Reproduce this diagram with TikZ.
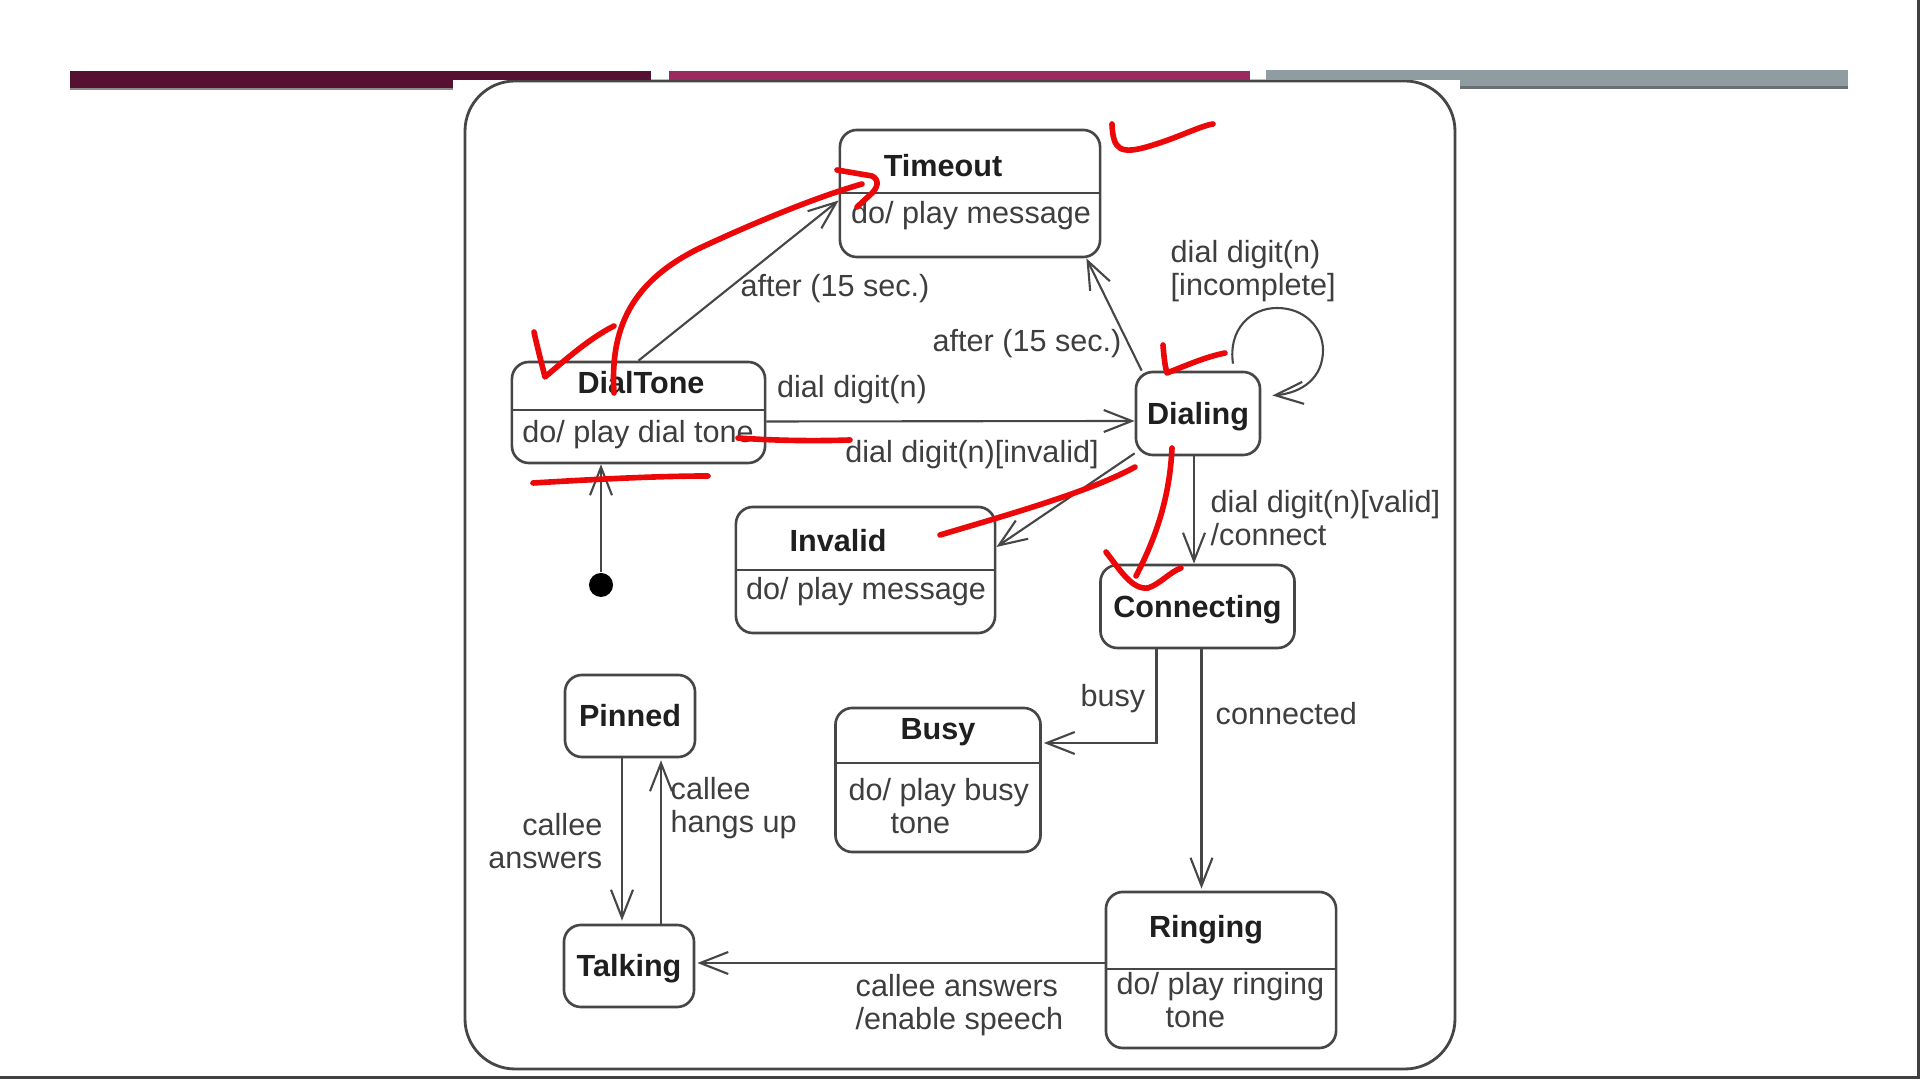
\documentclass[tikz,border=0pt]{standalone}
\usepackage{fontspec}
\setmainfont{Liberation Sans}
\usetikzlibrary{arrows.meta, positioning, calc}
\definecolor{slidemaroon}{RGB}{86, 16, 50}
\definecolor{slidepink}{RGB}{156, 42, 94}
\definecolor{slidegray}{RGB}{143, 157, 162}
\definecolor{slideshade}{RGB}{108, 112, 114}
\definecolor{umlline}{RGB}{70, 70, 70}
\definecolor{umltext}{RGB}{62, 62, 62}
\definecolor{penred}{RGB}{236, 8, 8}

\tikzset{
  statebox/.style={draw=umlline, line width=0.75pt, rounded corners=0.17cm, inner sep=0pt},
  simplestate/.style={statebox, font=\fontsize{8.7}{9.4}\selectfont\bfseries, text=black!88,
    text height=0.22cm, text depth=0pt},
  statename/.style={font=\fontsize{8.7}{9.4}\selectfont\bfseries, text=black!88, inner sep=0pt, anchor=base},
  stateact/.style={font=\fontsize{8.7}{9.4}\selectfont, text=umltext, inner sep=0pt, anchor=base},
  tlabel/.style={font=\fontsize{8.7}{9.4}\selectfont, text=umltext, inner sep=0pt, anchor=base},
  trans/.style={draw=umlline, line width=0.6pt, -{Straight Barb[length=2.8mm, width=2.2mm]}},
  inkmark/.style={draw=penred, line width=1.6pt, line cap=round, line join=round}
}

\begin{document}
\begin{tikzpicture}[x=0.01cm, y=-0.01cm]
  \useasboundingbox (0,0) rectangle (1920,1080);

  % slide frame and title bars
  \draw[umlline, line width=0.8pt, rounded corners=0.5cm] (465,81) rectangle (1455,1069);
  \fill[slidemaroon] (70,71) rectangle (453,90);
  \fill[slidemaroon] (453,71) rectangle (651,80);
  \fill[black!45] (70,88) rectangle (453,90);
  \fill[slidepink] (669,71) rectangle (1250,80);
  \fill[slidegray] (1266,70) rectangle (1848,80);
  \fill[slidegray] (1460,70) rectangle (1848,89);
  \fill[slideshade] (1460,86) rectangle (1848,89);
  \draw[black!75, line width=0.03cm] (0,1078) -- (1918,1078) -- (1918,0);

  % states
  \node[statebox, minimum width=2.60cm, minimum height=1.27cm] (timeout) at (970,193.5) {};
  \draw[umlline, line width=0.75pt] (timeout.west |- 0,193) -- (timeout.east |- 0,193);
  \node[statename] (timeoutName) at (943,177) {Timeout};
  \node[stateact] (timeoutDo) at (971,224) {do/ play message};

  \node[statebox, minimum width=2.53cm, minimum height=1.01cm] (dialtone) at (638.5,412.5) {};
  \draw[umlline, line width=0.75pt] (dialtone.west |- 0,410) -- (dialtone.east |- 0,410);
  \node[statename] (dialtoneName) at (641,394) {DialTone};
  \node[stateact] (dialtoneDo) at (638,443) {do/ play dial tone};

  \node[simplestate, minimum width=1.24cm, minimum height=0.83cm] (dialing) at (1198,413.5) {Dialing};

  \node[statebox, minimum width=2.59cm, minimum height=1.26cm] (invalid) at (865.5,570) {};
  \draw[umlline, line width=0.75pt] (invalid.west |- 0,570) -- (invalid.east |- 0,570);
  \node[statename] (invalidName) at (838,552) {Invalid};
  \node[stateact] (invalidDo) at (866,600) {do/ play message};

  \node[simplestate, minimum width=1.94cm, minimum height=0.83cm] (connecting) at (1197.5,606.5) {Connecting};
  \node[simplestate, minimum width=1.30cm, minimum height=0.82cm] (pinned) at (630,716) {Pinned};

  \node[statebox, minimum width=2.05cm, minimum height=1.44cm] (busy) at (938,780) {};
  \draw[umlline, line width=0.75pt] (busy.west |- 0,763) -- (busy.east |- 0,763);
  \node[statename] (busyName) at (938,740) {Busy};
  \node[stateact, anchor=base west, align=left] (busyDo) at (848,834) {do/ play busy\\\hspace*{1.37em}tone};

  \node[statebox, minimum width=2.30cm, minimum height=1.56cm] (ringing) at (1221,970) {};
  \draw[umlline, line width=0.75pt] (ringing.west |- 0,969) -- (ringing.east |- 0,969);
  \node[statename] (ringingName) at (1206,938) {Ringing};
  \node[stateact, anchor=base west, align=left] (ringingDo) at (1116,1028) {do/ play ringing\\\hspace*{1.6em}tone};

  \node[simplestate, minimum width=1.30cm, minimum height=0.82cm] (talking) at (629,966) {Talking};

  \node[circle, fill=black, inner sep=0pt, minimum size=0.24cm] (init) at (601,585) {};

  % transitions
  \draw[trans] (init) -- (init |- dialtone.south);
  \draw[trans] (dialtone.north) -- ($(timeout.west)+(0,7)$);
  \draw[trans] ($(dialing.north west)+(7,0)$) -- ($(timeout.south east)+(-15,0)$);
  \draw[trans] ($(dialtone.east)+(0,9)$) -- ($(dialing.west)+(0,7.5)$);
  \draw[trans] ($(dialing.south west)+(0,-3)$) -- ($(invalid.east)+(0,-23)$);
  \draw[trans] ($(dialing.north)+(35,-7)$) .. controls (1228,330) and (1250,308) .. (1277,308)
    .. controls (1305,308) and (1323,328) .. (1323,350)
    .. controls (1323,378) and (1302,393) .. ($(dialing.east)+(11,-18)$);
  \draw[trans] ($(dialing.south)+(-4,0)$) -- ($(connecting.north)+(-3.5,0)$);
  \draw[trans] ($(connecting.south)+(-41,0)$) |- ($(busy.east)+(2,-37)$);
  \draw[trans] ($(connecting.south)+(4,0)$) -- ($(ringing.north)+(-19.5,-2)$);
  \draw[trans] ($(ringing.west)+(0,-7)$) -- ($(talking.east)+(2,-3)$);
  \draw[trans] ($(pinned.south)+(-8,0)$) -- ($(talking.north)+(-7,-3)$);
  \draw[trans] ($(talking.north)+(32,0)$) -- ($(pinned.south)+(31,2)$);

  % transition labels
  \node[tlabel] (afterDialTone) at (835,297) {after (15 sec.)};
  \node[tlabel] (afterDialing) at (1027,352) {after (15 sec.)};
  \node[tlabel] (digitLbl) at (852,398) {dial digit(n)};
  \node[tlabel] (invalidLbl) at (972,463) {dial digit(n)[invalid]};
  \node[tlabel, anchor=base west, align=left] (incompleteLbl) at (1170,296) {dial digit(n)\\{}[incomplete]};
  \node[tlabel, anchor=base west, align=left] (validLbl) at (1210,546) {dial digit(n)[valid]\\/connect};
  \node[tlabel, anchor=base east] (busyLbl) at (1146,707) {busy};
  \node[tlabel, anchor=base west] (connectedLbl) at (1215,725) {connected};
  \node[tlabel, anchor=base west, align=left] (speechLbl) at (855,1030) {callee answers\\/enable speech};
  \node[tlabel, anchor=base east, align=right] (answersLbl) at (603,869) {callee\\answers};
  \node[tlabel, anchor=base west, align=left] (hangsLbl) at (670,833) {callee\\hangs up};

  % red pen marks
  \draw[inkmark] (1112,124) .. controls (1113,150) and (1120,155) .. (1150,146) .. controls (1180,137) and (1200,126) .. (1213,124);
  \draw[inkmark] (534,332) .. controls (538,350) and (542,365) .. (545,377) .. controls (565,360) and (590,338) .. (614,326);
  \draw[inkmark] (614,393) .. controls (610,330) and (630,282) .. (700,248) .. controls (760,220) and (820,196) .. (862,184);
  \draw[inkmark] (837,170) -- (872,176) .. controls (880,180) and (878,188) .. (870,195) -- (857,207);
  \draw[inkmark] (738,438) .. controls (780,441) and (820,441) .. (850,440);
  \draw[inkmark] (533,483) .. controls (600,479) and (660,476) .. (708,476);
  \draw[inkmark] (1163,345) .. controls (1164,358) and (1165,366) .. (1167,373) .. controls (1185,366) and (1205,357) .. (1225,353);
  \draw[inkmark] (940,535) .. controls (1000,517) and (1090,492) .. (1135,467);
  \draw[inkmark] (1172,448) .. controls (1170,490) and (1160,530) .. (1136,576);
  \draw[inkmark] (1106,552) .. controls (1120,570) and (1132,590) .. (1148,588) .. controls (1160,584) and (1170,572) .. (1181,568);
\end{tikzpicture}
\end{document}
